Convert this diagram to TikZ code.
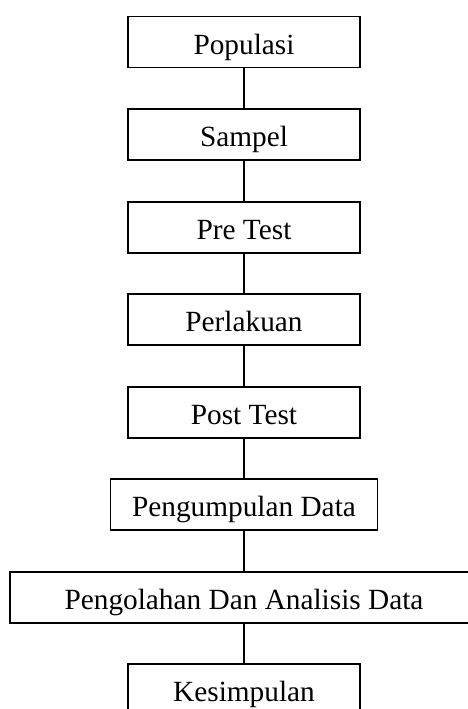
\documentclass[tikz,border=0pt]{standalone}
\usepackage{fontspec}
\setmainfont{Liberation Serif}
\usetikzlibrary{positioning}

\begin{document}
\begin{tikzpicture}[
    tahap/.style={draw,line width=1.6pt,outer sep=0pt,minimum width=232pt,minimum height=51pt,inner sep=0pt,text height=24pt,text depth=0pt,font=\fontsize{29.3}{35}\selectfont},
    node distance=41.5pt
]
            \useasboundingbox (0,0) rectangle (467pt,-709pt);
            % Boxes
            \node[tahap] (pop) at (244pt,-42.2pt) {Populasi};
            \node[tahap,below=of pop] (sam) {Sampel};
            \node[tahap,below=of sam] (pre) {Pre Test};
            \node[tahap,below=of pre] (per) {Perlakuan};
            \node[tahap,below=of per] (post) {Post Test};
            \node[tahap,below=of post,minimum width=267pt] (kumpul) {Pengumpulan Data};
            \node[tahap,below=of kumpul,minimum width=468pt] (olah) {Pengolahan Dan Analisis Data};
            \node[tahap,below=of olah] (simpul) {Kesimpulan};
            % Lines
            \draw[line width=1.6pt] (pop)--(sam);
            \draw[line width=1.6pt] (sam)--(pre);
            \draw[line width=1.6pt] (pre)--(per);
            \draw[line width=1.6pt] (per)--(post);
            \draw[line width=1.6pt] (post)--(kumpul);
            \draw[line width=1.6pt] (kumpul)--(olah);
            \draw[line width=1.6pt] (olah)--(simpul);
\end{tikzpicture}
\end{document}
